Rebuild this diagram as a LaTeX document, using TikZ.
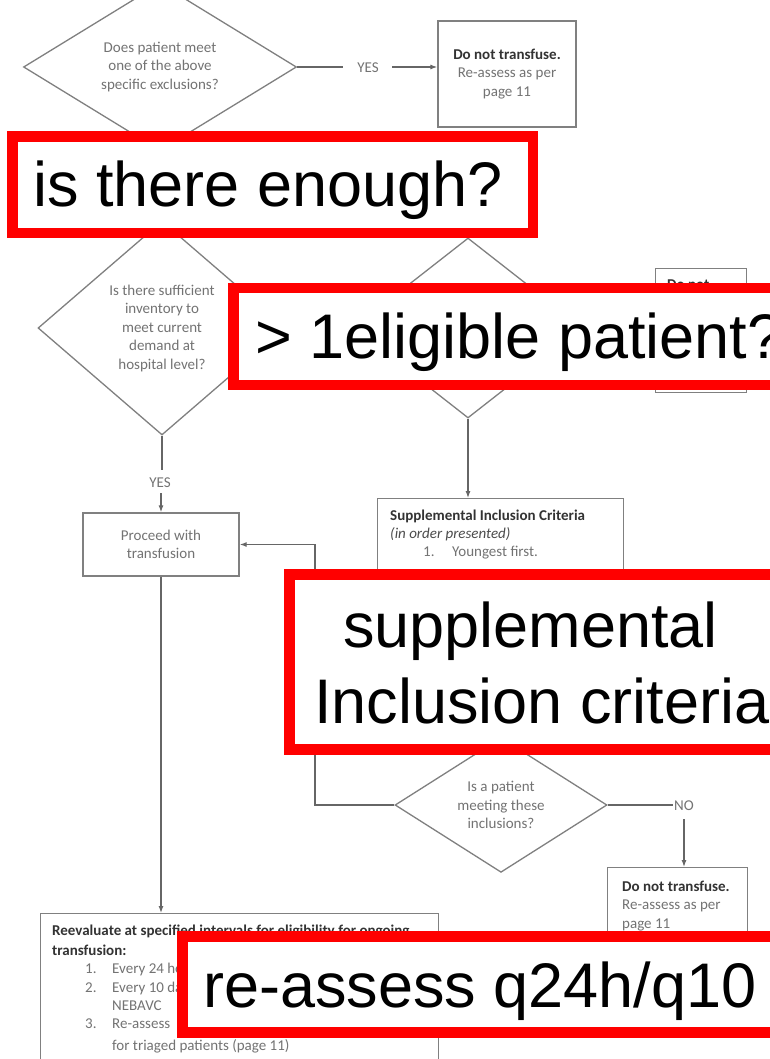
\documentclass[tikz,border=0pt]{standalone}
\usepackage{fontspec}
\setmainfont{Carlito}
\newfontfamily\arialf{Liberation Sans}
\usetikzlibrary{shapes.geometric,arrows.meta}
\begin{document}
\begin{tikzpicture}[x=1pt,y=-1pt,
  flow/.style={draw=black!50, line width=1.3pt},
  conn/.style={draw=black!60, line width=1.2pt},
  arr/.style={conn,-{Latex[length=7pt,width=5pt]}},
  smalltxt/.style={text=black!55, font=\fontsize{15}{18.5}\selectfont},
  boldtxt/.style={text=black!80, font=\bfseries\fontsize{15}{18.5}\selectfont},
  dec/.style={diamond, flow, inner sep=0pt, align=center, smalltxt},
  proc/.style={rectangle, flow, inner sep=0pt, align=center, smalltxt},
  lab/.style={smalltxt, inner sep=1pt},
  ltxt/.style={smalltxt, inner sep=0pt, anchor=base west},
  lbold/.style={boldtxt, inner sep=0pt, anchor=base west},
  redbox/.style={draw=red, line width=10.5pt, fill=white},
  big/.style={font=\arialf\fontsize{63}{76}\selectfont, inner sep=0pt, anchor=base west, text=black}
]
\useasboundingbox (0,0) rectangle (769,1059);
\fill[white] (0,0) rectangle (769,1059);

% diamonds
\node[dec, minimum width=273pt, minimum height=121pt] (d1) at (160,67)
  {Does patient meet\\one of the above\\specific exclusions?};
\node[dec, minimum width=248pt, minimum height=214pt] (d2) at (162,328)
  {Is there sufficient\\inventory to\\meet current\\demand at\\hospital level?};
\node[dec, minimum width=230pt, minimum height=180pt] (d3) at (468,328) {};
\node[dec, minimum width=212pt, minimum height=124pt] (d4) at (501,805)
  {Is a patient\\meeting these\\inclusions?};

% boxes
\node[proc, minimum width=138pt, minimum height=106pt] (dnt1) at (507,74)
  {{\color{black!80}\bfseries Do not transfuse.}\\Re-assess as per\\page 11};
\node[proc, minimum width=91pt, minimum height=124pt, anchor=north west] (dnt2) at (655,268) {};
\node[lbold] (dnt2t) at (667,289) {Do not};
\node[proc, minimum width=156pt, minimum height=63pt] (proc1) at (161,544.5)
  {Proceed with\\transfusion};
\node[proc, minimum width=246pt, minimum height=200pt, anchor=north west] (supp) at (377,498) {};
\node[lbold] (s1) at (390,520) {Supplemental Inclusion Criteria};
\node[ltxt, font=\itshape\fontsize{15}{18.5}\selectfont, text=black!70] (s2) at (390,538) {(in order presented)};
\node[ltxt] (s3n) at (423,556) {1.};
\node[ltxt] (s3) at (452,556) {Youngest first.};
\node[proc, minimum width=140pt, minimum height=140pt, anchor=north west] (dnt3) at (607,867) {};
\node[lbold] (dnt3a) at (622,891) {Do not transfuse.};
\node[ltxt] (dnt3b) at (622,909) {Re-assess as per};
\node[ltxt] (dnt3c) at (622,928) {page 11};
\node[proc, minimum width=398pt, minimum height=160pt, anchor=north west] (reev) at (40,913) {};
\node[lbold] (r1) at (52,935) {Reevaluate at specified intervals for eligibility for ongoing};
\node[lbold] (r2) at (52,955) {transfusion:};
\node[ltxt] (r3n) at (85,973) {1.};
\node[ltxt] (r3) at (112,973) {Every 24 hours};
\node[ltxt] (r4n) at (85,992) {2.};
\node[ltxt] (r4) at (112,992) {Every 10 days};
\node[ltxt] (r5) at (112,1010) {NEBAVC};
\node[ltxt] (r6n) at (85,1028) {3.};
\node[ltxt] (r6) at (112,1028) {Re-assess};
\node[ltxt] (r7) at (112,1050) {for triaged patients (page 11)};

% labels
\node[lab] (yes1) at (368,68) {YES};
\node[lab] (yes2) at (160,483) {YES};
\node[lab] (no4) at (684,806) {NO};
\coordinate (y1a) at (343,67);
\coordinate (y1b) at (392,67);
\coordinate (j) at (315,544.5);

% connectors
\draw[conn] (d1.east) -- (y1a);
\draw[arr] (y1b) -- (dnt1.west |- y1b);
\draw[conn] (d2.south) -- (162,470);
\draw[arr] (161,493) -- (proc1.north);
\draw[arr] (d3.south) -- (supp.north -| d3.south);
\draw[arr] (d4.west) -| (j) -- (proc1.east);
\draw[conn] (d4.east) -- (no4.west |- d4.east);
\draw[arr, shorten <=7pt] (no4.south) -- (no4.south |- dnt3.north);
\draw[arr] (proc1.south) -- (proc1.south |- reev.north);

% red annotation boxes
\draw[redbox] (12.5,136.5) rectangle (533,233);
\node[big] (t1) at (33,207) {is there enough?};
\draw[redbox] (233.5,288) rectangle (795,385);
\node[big] (t2) at (255,358) {> 1eligible patient?};
\draw[redbox] (289.5,574.5) rectangle (795,749.5);
\node[big] (t3a) at (343,647) {supplemental};
\node[big] (t3b) at (314,723) {Inclusion criteria};
\draw[redbox] (182.5,936.5) rectangle (795,1032.5);
\node[big] (t4) at (203,1007) {re-assess q24h/q10};
\end{tikzpicture}
\end{document}
